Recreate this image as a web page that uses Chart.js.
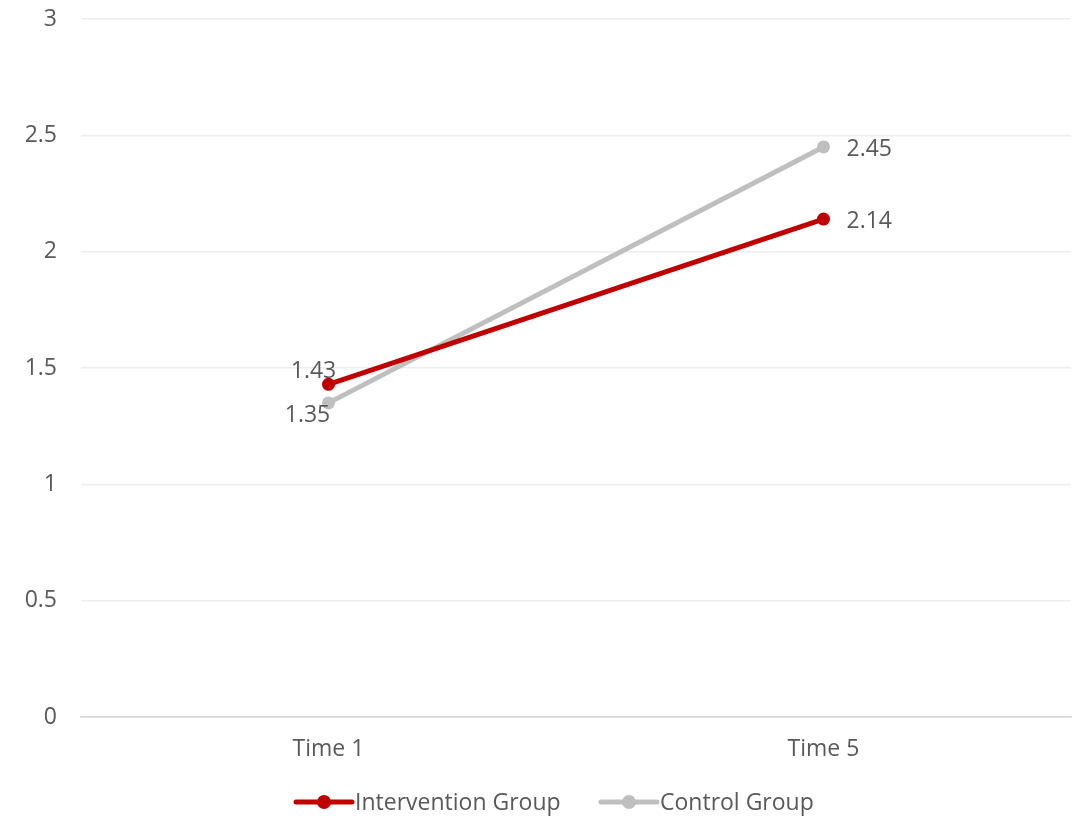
<!DOCTYPE html>
<html><head><meta charset="utf-8">
<script src="https://cdn.jsdelivr.net/npm/chart.js@4.4.0/dist/chart.umd.min.js"></script>
<style>html,body{margin:0;padding:0;background:#fff}#wrap{width:1086px;height:816px}</style>
</head><body><div id="wrap"><canvas id="c" width="1086" height="816"></canvas></div>
<script>
const categories = ['Time 1', 'Time 5'];
const interventionValues = [1.43, 2.14];
const controlValues = [1.35, 2.45];
const yTicks = [0, 0.5, 1, 1.5, 2, 2.5, 3];
const seriesNames = ['Intervention Group', 'Control Group'];

const RED = '#C00000', GRAY = '#BFBFBF', TXT = '#595959';
const FONT = '"Open Sans", sans-serif';
const FS = 23;

const labelPlugin = {
  id: 'valueLabels',
  afterDatasetsDraw(chart) {
    const ctx = chart.ctx;
    ctx.save();
    ctx.font = FS + 'px ' + FONT;
    ctx.fillStyle = TXT;
    chart.data.datasets.forEach((ds, di) => {
      const meta = chart.getDatasetMeta(di);
      meta.data.forEach((pt, i) => {
        const v = ds.data[i];
        let x = pt.x, y = pt.y;
        if (i === 0) {
          ctx.textAlign = 'center'; ctx.textBaseline = 'middle';
          if (di === 0) { x -= 15; y -= 13; } else { x -= 21; y += 13; }
        } else {
          ctx.textAlign = 'left'; ctx.textBaseline = 'middle';
          x += 23; y += 2;
        }
        ctx.fillText(v.toFixed(2), x, y);
      });
    });
    ctx.restore();
  }
};

const legendPlugin = {
  id: 'customLegend',
  afterDraw(chart) {
    const ctx = chart.ctx;
    ctx.save();
    ctx.font = FS + 'px ' + FONT;
    ctx.textBaseline = 'middle';
    ctx.textAlign = 'left';
    const y = 802;
    const items = [{x: 296, c: RED, t: seriesNames[0]}, {x: 601, c: GRAY, t: seriesNames[1]}];
    items.forEach(it => {
      ctx.strokeStyle = it.c; ctx.lineWidth = 5; ctx.lineCap = 'round';
      ctx.beginPath(); ctx.moveTo(it.x, y); ctx.lineTo(it.x + 56, y); ctx.stroke();
      ctx.fillStyle = it.c;
      ctx.beginPath(); ctx.arc(it.x + 28, y, 7, 0, Math.PI * 2); ctx.fill();
      ctx.fillStyle = TXT;
      ctx.fillText(it.t, it.x + 59, y + 1);
    });
    ctx.restore();
  }
};

new Chart(document.getElementById('c'), {
  type: 'line',
  data: {
    labels: categories,
    datasets: [
      { label: seriesNames[0], data: interventionValues, borderColor: RED, backgroundColor: RED,
        borderWidth: 5, pointRadius: 6.5, pointBackgroundColor: RED, pointBorderWidth: 0, order: 0 },
      { label: seriesNames[1], data: controlValues, borderColor: GRAY, backgroundColor: GRAY,
        borderWidth: 5, pointRadius: 6.5, pointBackgroundColor: GRAY, pointBorderWidth: 0, order: 1 }
    ]
  },
  options: {
    responsive: false,
    animation: false,
    layout: { padding: { top: 19, right: 15, bottom: 49, left: 0 } },
    plugins: { legend: { display: false }, tooltip: { enabled: false } },
    scales: {
      x: {
        offset: true,
        grid: { display: false, drawTicks: false },
        border: { display: true, color: '#D9D9D9', width: 1.5 },
        ticks: { color: TXT, font: { family: FONT, size: FS }, padding: 19 },
        afterFit(s) { s.height = 50; s.paddingLeft = 0; s.paddingRight = 0; }
      },
      y: {
        min: 0, max: 3,
        afterBuildTicks(s) { s.ticks = yTicks.map(v => ({ value: v })); },
        grid: { color: c => c.tick && c.tick.value === 0 ? '#D9D9D9' : '#EDEDED', lineWidth: 1.5, drawTicks: false },
        border: { display: false },
        ticks: { color: TXT, font: { family: FONT, size: FS }, padding: 24, callback: v => String(v) },
        afterFit(s) { s.width = 81; s.paddingTop = 0; s.paddingBottom = 0; }
      }
    }
  },
  plugins: [labelPlugin, legendPlugin]
});
</script></body></html>
